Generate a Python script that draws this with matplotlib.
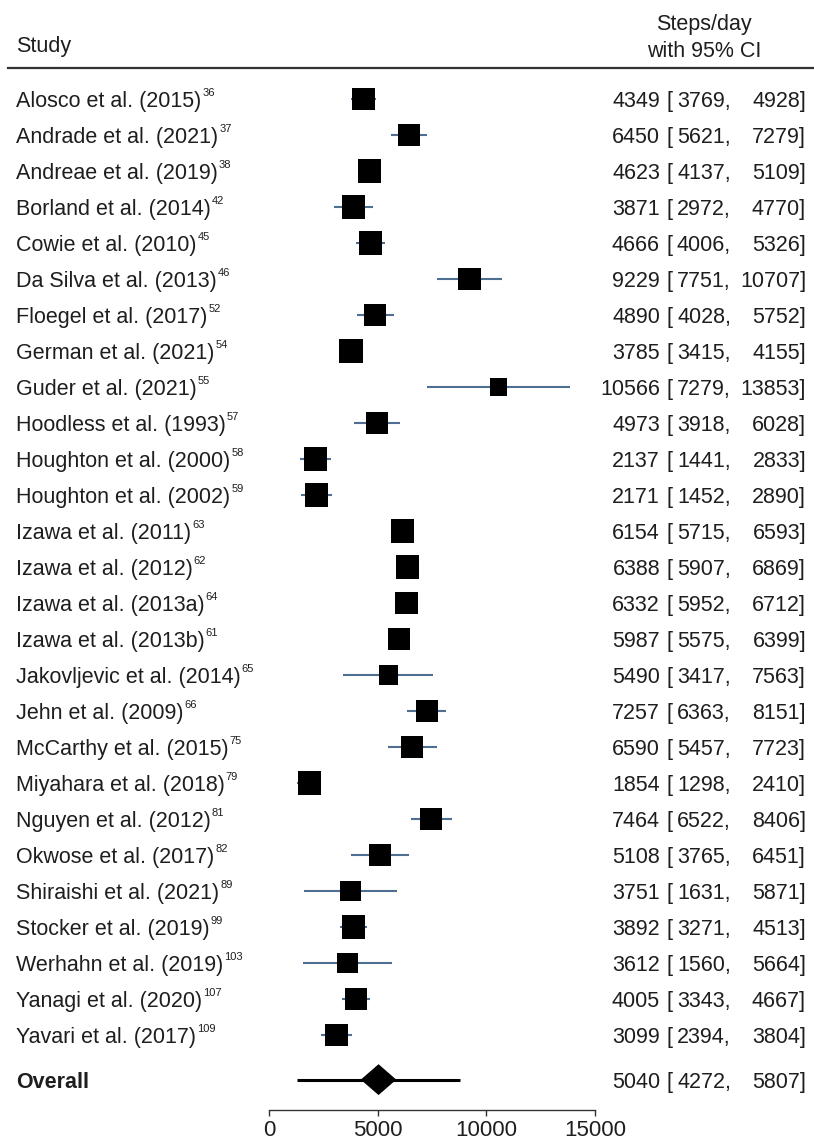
import matplotlib
matplotlib.use("Agg")
import matplotlib.pyplot as plt
from matplotlib import transforms
from matplotlib.patches import Polygon

plt.rcParams["font.family"] = ["Liberation Sans", "DejaVu Sans"]

# ---- data ----
studies = [
    "Alosco et al. (2015)", "Andrade et al. (2021)", "Andreae et al. (2019)",
    "Borland et al. (2014)", "Cowie et al. (2010)", "Da Silva et al. (2013)",
    "Floegel et al. (2017)", "German et al. (2021)", "Guder et al. (2021)",
    "Hoodless et al. (1993)", "Houghton et al. (2000)", "Houghton et al. (2002)",
    "Izawa et al. (2011)", "Izawa et al. (2012)", "Izawa et al. (2013a)",
    "Izawa et al. (2013b)", "Jakovljevic et al. (2014)", "Jehn et al. (2009)",
    "McCarthy et al. (2015)", "Miyahara et al. (2018)", "Nguyen et al. (2012)",
    "Okwose et al. (2017)", "Shiraishi et al. (2021)", "Stocker et al. (2019)",
    "Werhahn et al. (2019)", "Yanagi et al. (2020)", "Yavari et al. (2017)",
]
refs = ["36", "37", "38", "42", "45", "46", "52", "54", "55", "57", "58", "59",
        "63", "62", "64", "61", "65", "66", "75", "79", "81", "82", "89", "99",
        "103", "107", "109"]
estimate = [4349, 6450, 4623, 3871, 4666, 9229, 4890, 3785, 10566, 4973, 2137,
            2171, 6154, 6388, 6332, 5987, 5490, 7257, 6590, 1854, 7464, 5108,
            3751, 3892, 3612, 4005, 3099]
ci_low = [3769, 5621, 4137, 2972, 4006, 7751, 4028, 3415, 7279, 3918, 1441,
          1452, 5715, 5907, 5952, 5575, 3417, 6363, 5457, 1298, 6522, 3765,
          1631, 3271, 1560, 3343, 2394]
ci_high = [4928, 7279, 5109, 4770, 5326, 10707, 5752, 4155, 13853, 6028, 2833,
           2890, 6593, 6869, 6712, 6399, 7563, 8151, 7723, 2410, 8406, 6451,
           5871, 4513, 5664, 4667, 3804]
weights = [3.80, 3.70, 4.04, 3.94, 4.04, 3.70, 3.70, 4.15, 2.21, 3.60, 4.04,
           3.94, 4.04, 4.04, 3.80, 3.70, 2.76, 3.60, 3.60, 4.04, 3.60, 3.37,
           3.15, 4.04, 3.06, 3.70, 3.70]
overall_est, overall_low, overall_high = 5040, 4272, 5807
pred_low, pred_high = 1270, 8810
x_ticks = [0, 5000, 10000, 15000]

# ---- layout ----
W, H, DPI = 814, 1140, 100
fig = plt.figure(figsize=(W / DPI, H / DPI), dpi=DPI)
fig.patch.set_facecolor("white")

row0_px, row_step_px = 99.0, 36.0
ax_left_px, ax_right_px = 269, 595
ax_top_px, ax_bot_px = 70, 1110
ax = fig.add_axes([ax_left_px / W, 1 - ax_bot_px / H,
                   (ax_right_px - ax_left_px) / W, (ax_bot_px - ax_top_px) / H])
ax.set_xlim(0, 15000)
ax.set_ylim((ax_bot_px - row0_px) / row_step_px, (ax_top_px - row0_px) / row_step_px)
for side in ("top", "left", "right"):
    ax.spines[side].set_visible(False)
ax.spines["bottom"].set_color("#333333")
ax.spines["bottom"].set_linewidth(1.0)
ax.spines["bottom"].set_bounds(0, 15000)
ax.set_yticks([])
ax.set_xticks(x_ticks)
ax.set_xticklabels([str(t) for t in x_ticks])
ax.tick_params(axis="x", direction="out", length=4.5, width=1.0, color="#333333",
               labelsize=16, labelcolor="#1e1e1e", pad=3)
ax.patch.set_alpha(0)

ci_color = "#4f6f92"
text_color = "#1e1e1e"
fs_name = 15.5
fs_val = 15.5
base_off = 8.0 / row_step_px  # baseline offset below row centre (in rows)

rows = list(range(len(studies)))
overall_row = 27.24

# confidence intervals and weighted squares
ax.hlines(rows, ci_low, ci_high, color=ci_color, linewidth=1.5, zorder=2)
sizes = [(11.6 * w ** 0.5 * 0.72) ** 2 for w in weights]
ax.scatter(estimate, rows, s=sizes, marker="s", color="black", linewidths=0, zorder=3)

# overall estimate: prediction interval and diamond
ax.hlines(overall_row, pred_low, pred_high, color="black", linewidth=2.2, zorder=2)
dh = 14.5 / row_step_px
diamond = Polygon([(overall_low, overall_row), (overall_est, overall_row - dh),
                   (overall_high, overall_row), (overall_est, overall_row + dh)],
                  closed=True, facecolor="black", edgecolor="black", zorder=3)
ax.add_patch(diamond)

# text in figure-x / data-y coordinates
tr = transforms.blended_transform_factory(fig.transFigure, ax.transData)


def fx(px):
    return px / W


name_texts = []
for r, name in zip(rows, studies):
    t = fig.text(fx(16), r + base_off, name, transform=tr, fontsize=fs_name,
                 color=text_color, ha="left", va="baseline")
    name_texts.append(t)

fig.text(fx(16), overall_row + base_off, "Overall", transform=tr, fontsize=fs_name,
         color=text_color, ha="left", va="baseline", fontweight="bold")


def annotate(r, est, lo, hi):
    y = r + base_off
    fig.text(fx(660), y, f"{est}", transform=tr, fontsize=fs_val, color=text_color,
             ha="right", va="baseline")
    fig.text(fx(667), y, "[", transform=tr, fontsize=fs_val, color=text_color,
             ha="left", va="baseline")
    fig.text(fx(731), y, f"{lo},", transform=tr, fontsize=fs_val, color=text_color,
             ha="right", va="baseline")
    fig.text(fx(806), y, f"{hi}]", transform=tr, fontsize=fs_val, color=text_color,
             ha="right", va="baseline")


for r, e, lo, hi in zip(rows, estimate, ci_low, ci_high):
    annotate(r, e, lo, hi)
annotate(overall_row, overall_est, overall_low, overall_high)

# superscript reference numbers after each study name
fig.canvas.draw()
renderer = fig.canvas.get_renderer()
sup_raise = 11.0 / row_step_px
for t, r, ref in zip(name_texts, rows, refs):
    bb = t.get_window_extent(renderer)
    fig.text(fx(bb.x1 + 1), r + base_off - sup_raise, ref, transform=tr,
             fontsize=8, color=text_color, ha="left", va="baseline")

# header
fig.text(fx(16), 1 - 52 / H, "Study", fontsize=fs_name, color=text_color,
         ha="left", va="baseline")
fig.text(fx(704), 1 - 30 / H, "Steps/day", fontsize=fs_val, color=text_color,
         ha="center", va="baseline")
fig.text(fx(704), 1 - 57 / H, "with 95% CI", fontsize=fs_val, color=text_color,
         ha="center", va="baseline")
fig.add_artist(plt.Line2D([fx(8), fx(814)], [1 - 68 / H, 1 - 68 / H],
                          transform=fig.transFigure, color="#333333", linewidth=1.6))

fig.savefig("out.png", dpi=DPI, facecolor="white")
